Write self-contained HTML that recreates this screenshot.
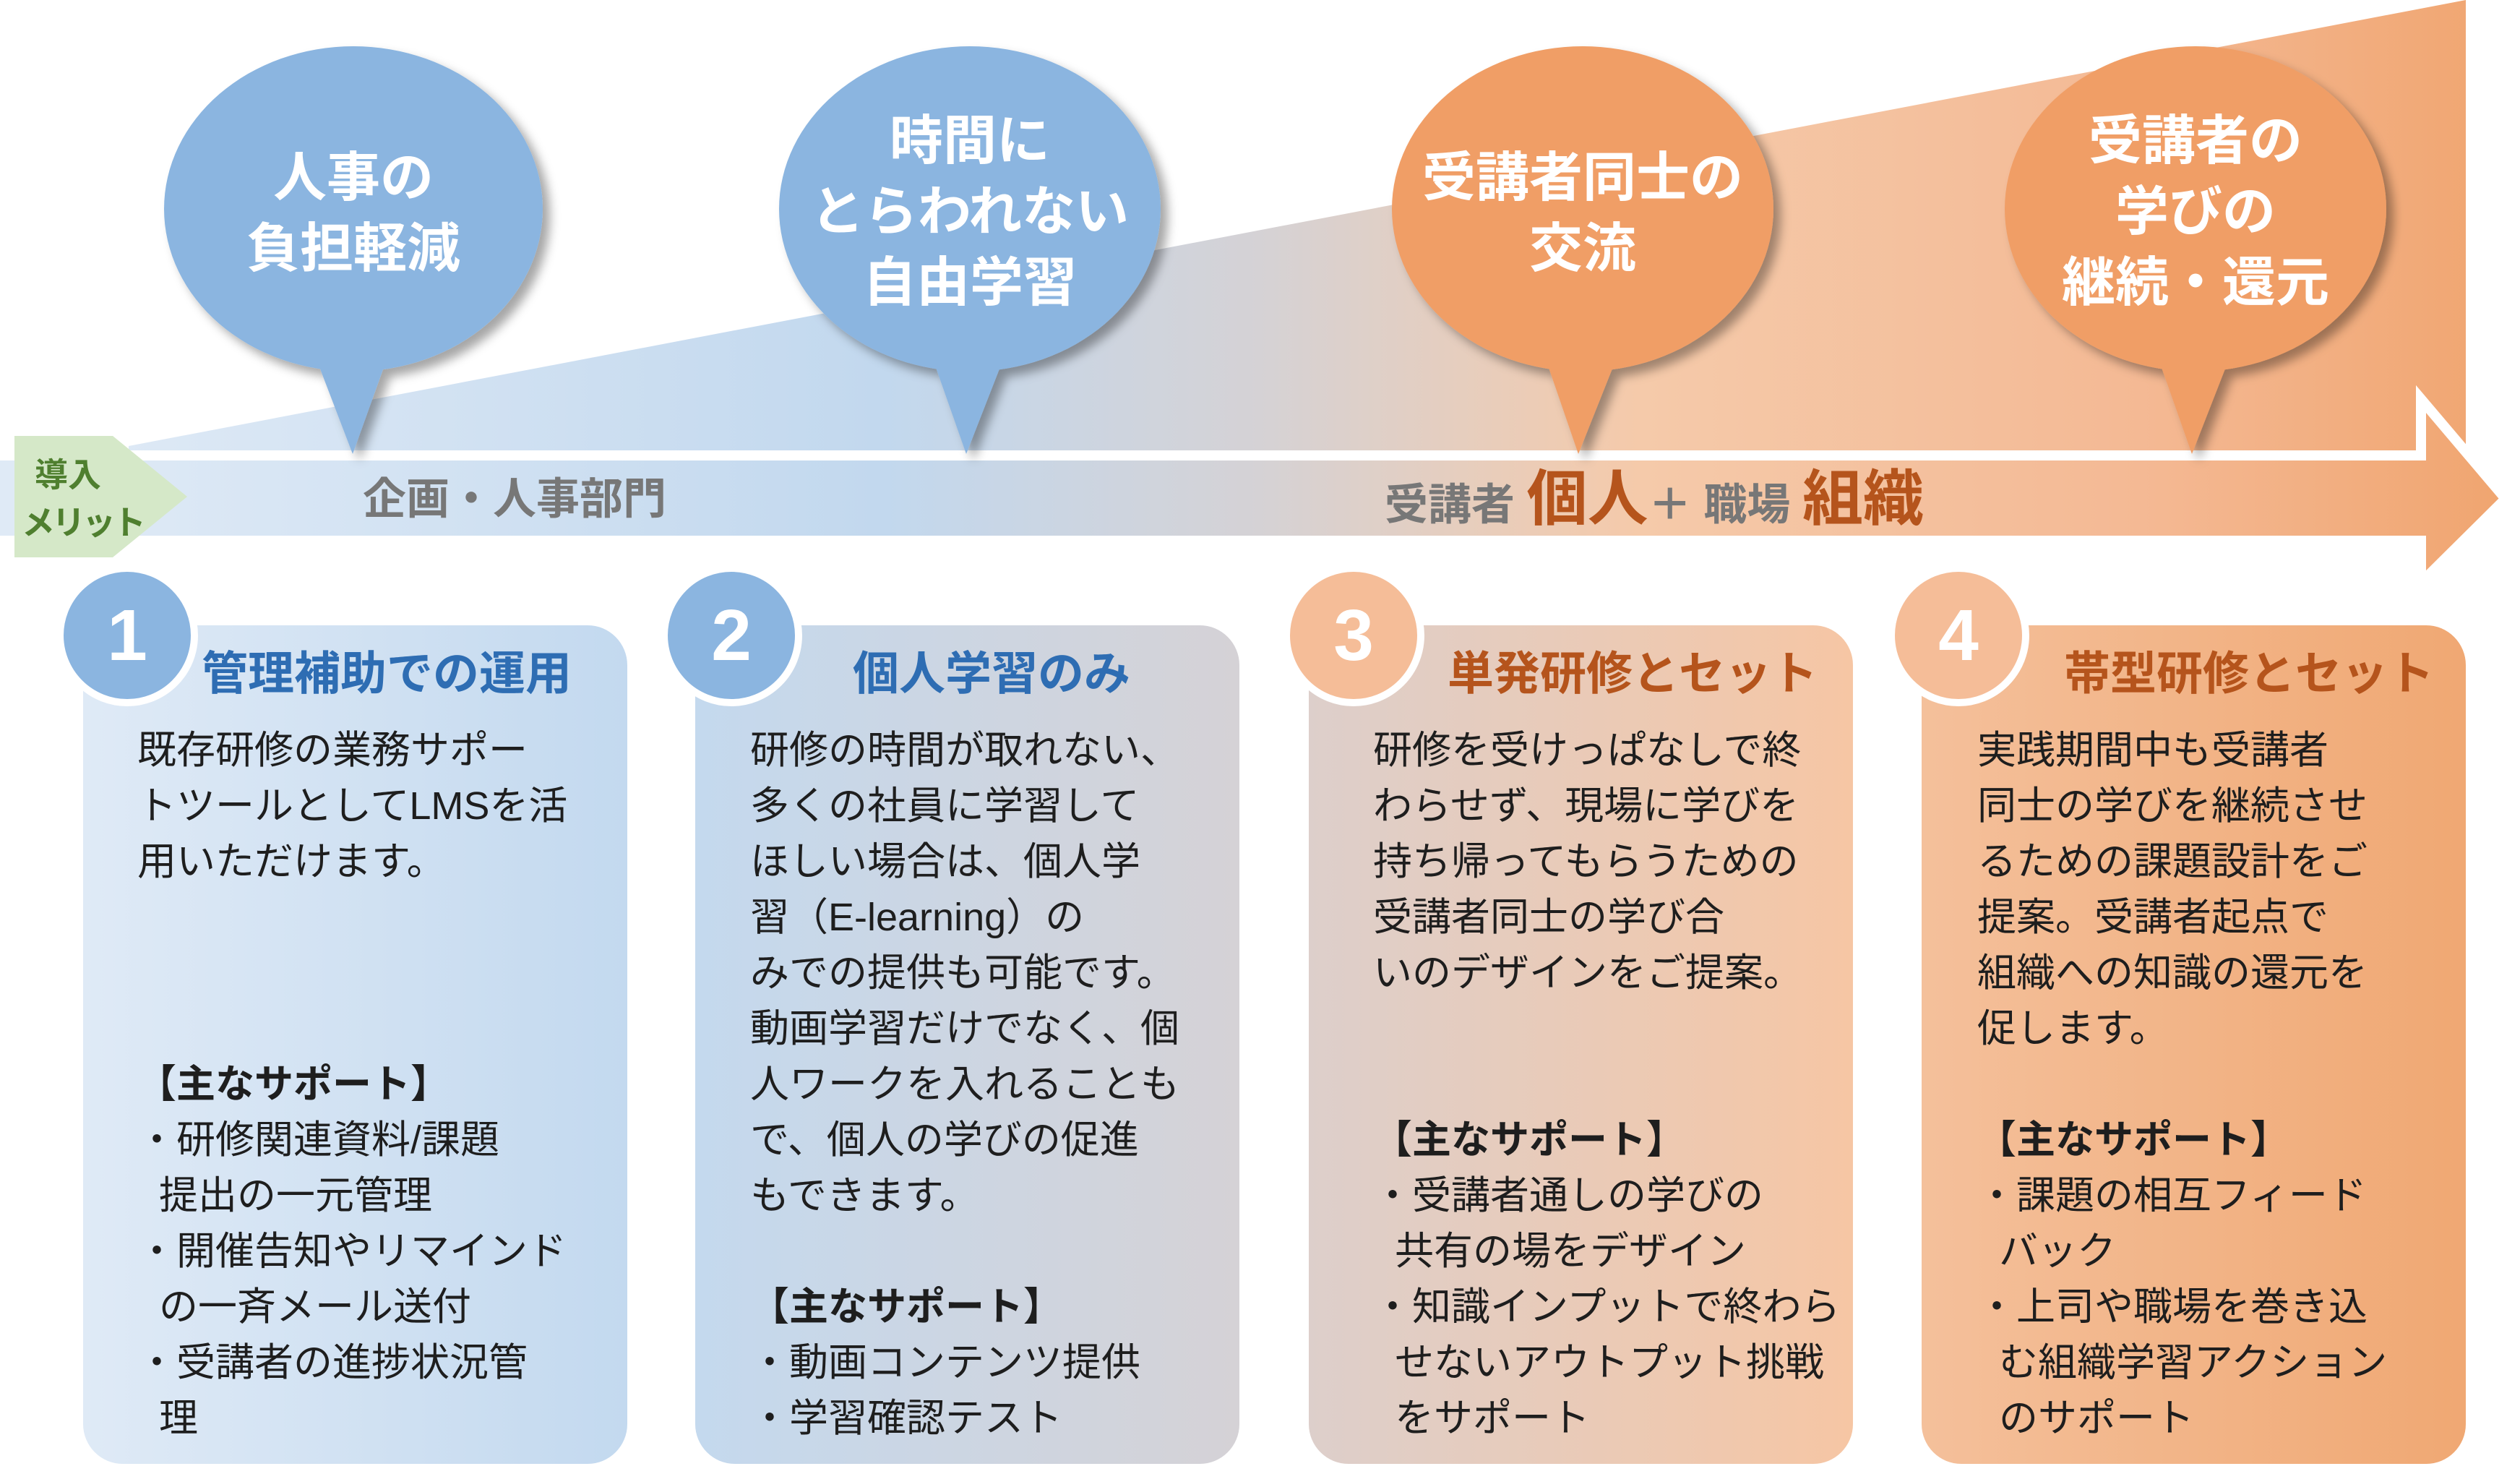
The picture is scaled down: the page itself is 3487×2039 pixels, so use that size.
<!DOCTYPE html>
<html><head><meta charset="utf-8"><style>
*{margin:0;padding:0;box-sizing:border-box}
body{width:3487px;height:2039px;background:#fff;position:relative;overflow:hidden;font-family:"Liberation Sans","Noto Sans CJK JP",sans-serif}
.t{position:absolute;white-space:nowrap}
.bub{color:#fff;font-weight:bold;font-size:74px;line-height:98px;text-align:center;transform:translateX(-50%)}
.body{font-size:54px;line-height:77px;color:#1e1e1e}
.body b{font-weight:bold}
.ind{padding-left:30px}
.ttl{font-size:64px;font-weight:bold;line-height:80px}
.num{color:#fff;font-weight:bold;font-size:100px;line-height:100px;text-align:center;width:200px}
</style></head><body>
<svg width="3487" height="2039" style="position:absolute;left:0;top:0">
<defs>
<linearGradient id="gw" x1="0" x2="3487" y1="0" y2="0" gradientUnits="userSpaceOnUse">
<stop offset="0.03" stop-color="#dfeaf6"/><stop offset="0.35" stop-color="#c2d8ee"/><stop offset="0.5" stop-color="#d5d2d5"/><stop offset="0.65" stop-color="#f5caaa"/><stop offset="0.85" stop-color="#f4b994"/><stop offset="1" stop-color="#f0a46e"/>
</linearGradient>
<linearGradient id="c1" x1="0" x2="1"><stop offset="0" stop-color="#dfeaf6"/><stop offset="1" stop-color="#c3d9ef"/></linearGradient>
<linearGradient id="c2" x1="0" x2="1"><stop offset="0" stop-color="#c4d9ee"/><stop offset="1" stop-color="#d5d2d6"/></linearGradient>
<linearGradient id="c3" x1="0" x2="1"><stop offset="0" stop-color="#ddcfcb"/><stop offset="1" stop-color="#f6c6a4"/></linearGradient>
<linearGradient id="c4" x1="0" x2="1"><stop offset="0" stop-color="#f4c09b"/><stop offset="1" stop-color="#f0a873"/></linearGradient>
<filter id="sh" x="-20%" y="-20%" width="140%" height="140%"><feDropShadow dx="10" dy="10" stdDeviation="7" flood-color="#000" flood-opacity="0.35"/></filter>
</defs>
<polygon points="178,617 3412,0 3412,700 178,700" fill="url(#gw)"/>
<polygon points="-20,630 3350,630 3350,552 3467,690 3350,806 3350,748 -20,748" fill="url(#gw)" stroke="#fff" stroke-width="14"/>
<polygon points="20,603 156,603 259,687 156,771 20,771" fill="#d5e8c8"/>
<g filter="url(#sh)" fill="#8bb5e0">
<ellipse cx="489" cy="289" rx="262" ry="225"/><polygon points="439,500 534,500 488,628"/>
<ellipse cx="1342" cy="289" rx="264" ry="225"/><polygon points="1292,500 1387,500 1337,628"/>
</g>
<g filter="url(#sh)" fill="#f09e66">
<ellipse cx="2190" cy="289" rx="264" ry="225"/><polygon points="2140,500 2235,500 2184,628"/>
<ellipse cx="3038" cy="289" rx="264" ry="225"/><polygon points="2988,500 3083,500 3033,628"/>
</g>
<rect x="115" y="865" width="753" height="1160" rx="55" fill="url(#c1)"/>
<rect x="962" y="865" width="753" height="1160" rx="55" fill="url(#c2)"/>
<rect x="1811" y="865" width="753" height="1160" rx="55" fill="url(#c3)"/>
<rect x="2659" y="865" width="753" height="1160" rx="55" fill="url(#c4)"/>
<circle cx="176" cy="879" r="93" fill="#8bb5e0" stroke="#fff" stroke-width="10"/>
<circle cx="1012" cy="879" r="93" fill="#8bb5e0" stroke="#fff" stroke-width="10"/>
<circle cx="1873" cy="879" r="93" fill="#f5bd98" stroke="#fff" stroke-width="10"/>
<circle cx="2710" cy="879" r="93" fill="#f5bd98" stroke="#fff" stroke-width="10"/>
</svg>

<div class="t bub" style="left:489px;top:197px">人事の<br>負担軽減</div>
<div class="t bub" style="left:1342px;top:146px">時間に<br>とらわれない<br>自由学習</div>
<div class="t bub" style="left:2190px;top:197px">受講者同士の<br>交流</div>
<div class="t bub" style="left:3038px;top:146px">受講者の<br>学びの<br>継続・還元</div>

<div class="t" style="left:48px;top:624px;font-size:46px;font-weight:bold;color:#4f7f2f;line-height:66px">導入<br><span style="margin-left:-18px;letter-spacing:-4px">メリット</span></div>

<div class="t" style="left:502px;top:656px;font-size:60px;font-weight:bold;color:#777;line-height:70px">企画・人事部門</div>
<div class="t" style="left:1916px;top:648px;font-weight:bold;color:#777;line-height:84px;font-size:60px">受講者 <span style="font-size:84px;color:#b5541c">個人</span><span style="font-size:60px">＋</span> 職場 <span style="font-size:84px;color:#b5541c">組織</span></div>

<div class="t num" style="left:76px;top:829px">1</div>
<div class="t num" style="left:912px;top:829px">2</div>
<div class="t num" style="left:1773px;top:829px">3</div>
<div class="t num" style="left:2610px;top:829px">4</div>

<div class="t ttl" style="left:279px;top:892px;color:#2e6db3">管理補助での運用</div>
<div class="t ttl" style="left:1180px;top:892px;color:#2e6db3">個人学習のみ</div>
<div class="t ttl" style="left:2003px;top:892px;color:#b5541c">単発研修とセット</div>
<div class="t ttl" style="left:2856px;top:892px;color:#b5541c">帯型研修とセット</div>

<div class="t body" style="left:190px;top:1000px">既存研修の業務サポー<br>トツールとしてLMSを活<br>用いただけます。<br><br><br><br><b>【主なサポート】</b><br>・研修関連資料/課題<br><span class="ind">提出の一元管理</span><br>・開催告知やリマインド<br><span class="ind">の一斉メール送付</span><br>・受講者の進捗状況管<br><span class="ind">理</span></div>

<div class="t body" style="left:1038px;top:1000px">研修の時間が取れない、<br>多くの社員に学習して<br>ほしい場合は、個人学<br>習（E-learning）の<br>みでの提供も可能です。<br>動画学習だけでなく、個<br>人ワークを入れることも<br>で、個人の学びの促進<br>もできます。<br><br><b>【主なサポート】</b><br>・動画コンテンツ提供<br>・学習確認テスト</div>

<div class="t body" style="left:1900px;top:1000px">研修を受けっぱなしで終<br>わらせず、現場に学びを<br>持ち帰ってもらうための<br>受講者同士の学び合<br>いのデザインをご提案。<br><br><br><b>【主なサポート】</b><br>・受講者通しの学びの<br><span class="ind">共有の場をデザイン</span><br>・知識インプットで終わら<br><span class="ind">せないアウトプット挑戦</span><br><span class="ind">をサポート</span></div>

<div class="t body" style="left:2736px;top:1000px">実践期間中も受講者<br>同士の学びを継続させ<br>るための課題設計をご<br>提案。受講者起点で<br>組織への知識の還元を<br>促します。<br><br><b>【主なサポート】</b><br>・課題の相互フィード<br><span class="ind">バック</span><br>・上司や職場を巻き込<br><span class="ind">む組織学習アクション</span><br><span class="ind">のサポート</span></div>
</body></html>
